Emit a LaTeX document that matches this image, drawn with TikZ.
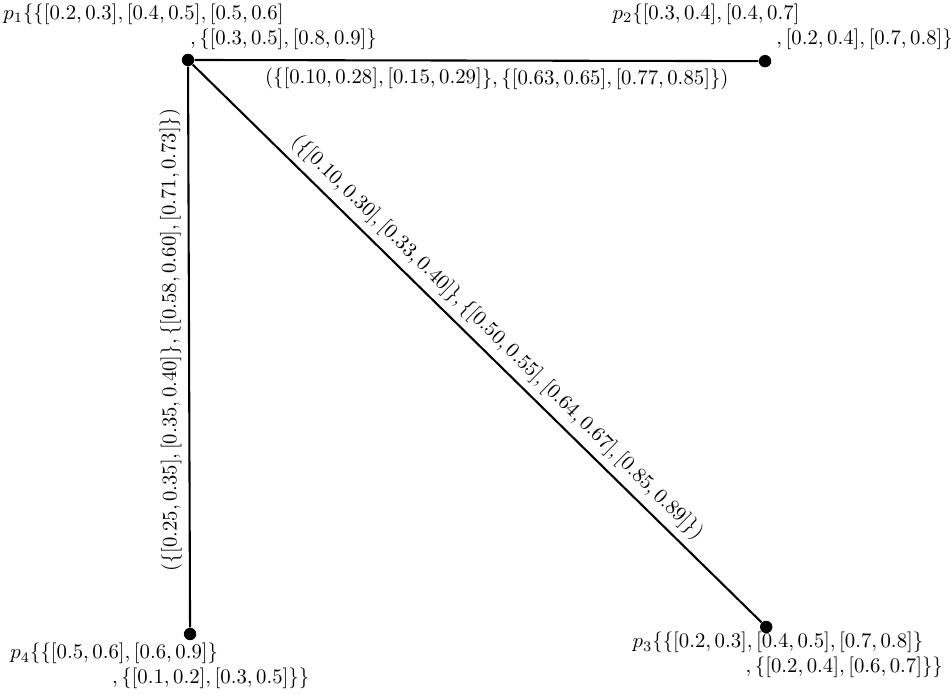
\documentclass[tikz,border=0pt]{standalone}
\usepackage{amsmath,amssymb}
\usepackage{tikz}
\usetikzlibrary{positioning,calc}

\begin{document}
\begin{tikzpicture}[
    vertex/.style={circle, fill=black, inner sep=0pt, minimum size=0.21cm},
    setlab/.style={inner sep=0pt, align=left, anchor=north west},
    edgelab/.style={sloped, inner sep=3.3pt},
    link/.style={line width=1pt}
  ]
    \useasboundingbox (0,0) rectangle (16.11,11.756);
    % Vertices
    \node[vertex] (p1) at (3.185,10.74) {};
    \node[vertex] (p2) at (12.96,10.72) {};
    \node[vertex] (p3) at (12.98,1.135) {};
    \node[vertex] (p4) at (3.22,1.016) {};

    % Vertex labels
    \node[setlab] (p1lab) at (0.05,11.70) {$p_1\{\{[0.2,0.3],[0.4,0.5],[0.5,0.6]$\\
      \hspace*{90pt}$,\{[0.3,0.5],[0.8,0.9]\}$};
    \node[setlab] (p2lab) at (10.37,11.70) {$p_2\{[0.3,0.4],[0.4,0.7]$\\
      \hspace*{79pt}$,[0.2,0.4],[0.7,0.8]\}$};
    \node[setlab] (p3lab) at (10.71,1.05) {$p_3\{\{[0.2,0.3],[0.4,0.5],[0.7,0.8]\}$\\
      \hspace*{54.5pt}$,\{[0.2,0.4],[0.6,0.7]\}\}$};
    \node[setlab] (p4lab) at (0.17,0.864) {$p_4\{\{[0.5,0.6],[0.6,0.9]\}$\\
      \hspace*{49pt}$,\{[0.1,0.2],[0.3,0.5]\}\}$};

    % Edges
    \draw[link] (p1) -- node[edgelab, below, pos=0.536]
      {$(\{[0.10,0.28],[0.15,0.29]\},\{[0.63,0.65],[0.77,0.85]\})$} (p2);
    \draw[link] (p1) -- node[edgelab, above, pos=0.513]
      {$(\{[0.10,0.30],[0.33,0.40]\},\{[0.50,0.55],[0.64,0.67],[0.85,0.89]\})$} (p3);
    \draw[link] (p4) -- node[edgelab, allow upside down, above, pos=0.512]
      {$(\{[0.25,0.35],[0.35,0.40]\},\{[0.58,0.60],[0.71,0.73]\})$} (p1);
\end{tikzpicture}
\end{document}
